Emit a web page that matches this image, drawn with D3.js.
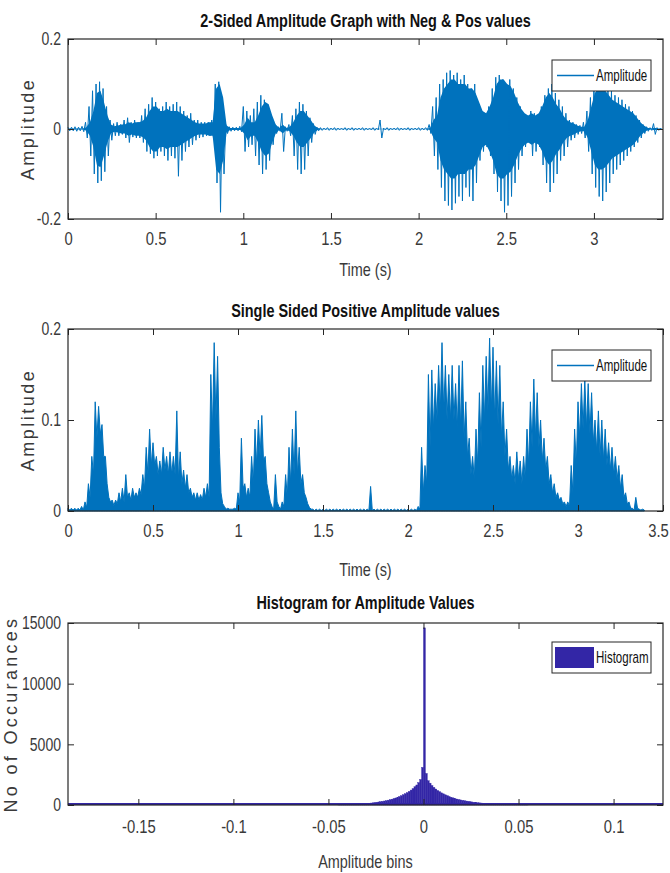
<!DOCTYPE html>
<html>
<head>
<meta charset="utf-8">
<script src="https://cdn.jsdelivr.net/npm/d3@7"></script>
<style>
    body { margin: 0; background: #fff; }
</style>
</head>
<body>
<svg id="main-svg" width="670" height="873"></svg>
<script>
// envelope of the signal, one value every timeStep seconds
const timeStep = 0.02;
const waveHigh = [
    0.004, 0.004, 0.005, 0.004, 0.006, 0.015, 0.05, 0.085, 0.1, 0.105,
    0.09, 0.05, 0.02, 0.012, 0.015, 0.01, 0.02, 0.025, 0.015, 0.02,
    0.015, 0.03, 0.045, 0.055, 0.07, 0.06, 0.045, 0.05, 0.06, 0.05,
    0.055, 0.06, 0.05, 0.04, 0.03, 0.035, 0.02, 0.02, 0.015, 0.015,
    0.015, 0.02, 0.1, 0.105, 0.06, 0.01, 0.005, 0.004, 0.004, 0.006,
    0.05, 0.04, 0.03, 0.045, 0.06, 0.075, 0.065, 0.05, 0.025, 0.01,
    0.005, 0.035, 0.005, 0.01, 0.03, 0.045, 0.06, 0.055, 0.04, 0.025,
    0.012, 0.004, 0.003, 0.002, 0.003, 0.002, 0.003, 0.002, 0.002, 0.003,
    0.002, 0.003, 0.002, 0.002, 0.003, 0.002, 0.002, 0.003, 0.002, 0.02,
    0.002, 0.003, 0.002, 0.002, 0.003, 0.002, 0.002, 0.003, 0.002, 0.002,
    0.003, 0.002, 0.003, 0.01, 0.05, 0.07, 0.1, 0.11, 0.125, 0.13,
    0.12, 0.125, 0.11, 0.12, 0.1, 0.09, 0.1, 0.06, 0.04, 0.03,
    0.05, 0.09, 0.115, 0.12, 0.11, 0.1, 0.11, 0.09, 0.07, 0.05,
    0.03, 0.025, 0.04, 0.035, 0.03, 0.05, 0.075, 0.09, 0.1, 0.08,
    0.065, 0.05, 0.035, 0.02, 0.015, 0.01, 0.008, 0.015, 0.04, 0.07,
    0.1, 0.11, 0.105, 0.1, 0.09, 0.085, 0.075, 0.07, 0.065, 0.055,
    0.05, 0.04, 0.03, 0.02, 0.01, 0.005, 0.003, 0.012, 0.003, 0.002
];
const waveLow = [
    -0.004, -0.004, -0.005, -0.004, -0.006, -0.02, -0.06, -0.1, -0.12, -0.115,
    -0.095, -0.06, -0.025, -0.015, -0.015, -0.012, -0.02, -0.03, -0.018, -0.02,
    -0.02, -0.03, -0.05, -0.055, -0.065, -0.06, -0.05, -0.06, -0.07, -0.06,
    -0.065, -0.105, -0.07, -0.05, -0.04, -0.035, -0.025, -0.02, -0.018, -0.015,
    -0.015, -0.02, -0.12, -0.185, -0.1, -0.01, -0.005, -0.004, -0.004, -0.006,
    -0.05, -0.04, -0.035, -0.06, -0.08, -0.1, -0.09, -0.07, -0.035, -0.01,
    -0.005, -0.05, -0.005, -0.015, -0.06, -0.09, -0.1, -0.09, -0.06, -0.03,
    -0.012, -0.004, -0.003, -0.002, -0.003, -0.002, -0.003, -0.002, -0.002, -0.003,
    -0.002, -0.003, -0.002, -0.002, -0.003, -0.002, -0.002, -0.003, -0.002, -0.02,
    -0.002, -0.003, -0.002, -0.002, -0.003, -0.002, -0.002, -0.003, -0.002, -0.002,
    -0.003, -0.002, -0.003, -0.01, -0.06, -0.09, -0.13, -0.16, -0.17, -0.18,
    -0.165, -0.15, -0.16, -0.13, -0.15, -0.16, -0.12, -0.07, -0.05, -0.04,
    -0.06, -0.1, -0.14, -0.16, -0.185, -0.17, -0.15, -0.12, -0.09, -0.06,
    -0.04, -0.03, -0.06, -0.05, -0.04, -0.08, -0.12, -0.14, -0.12, -0.1,
    -0.07, -0.06, -0.04, -0.025, -0.02, -0.012, -0.01, -0.02, -0.05, -0.1,
    -0.13, -0.15, -0.16, -0.14, -0.12, -0.1, -0.09, -0.08, -0.07, -0.06,
    -0.05, -0.04, -0.03, -0.02, -0.01, -0.005, -0.003, -0.012, -0.003, -0.002
];
// single sided: spikes and the dense part below them
const absPeak = [
    0.003, 0.003, 0.003, 0.003, 0.005, 0.01, 0.03, 0.06, 0.12, 0.115,
    0.095, 0.06, 0.015, 0.012, 0.012, 0.02, 0.025, 0.04, 0.02, 0.025,
    0.02, 0.025, 0.04, 0.07, 0.09, 0.075, 0.06, 0.055, 0.07, 0.06,
    0.065, 0.06, 0.11, 0.065, 0.045, 0.04, 0.025, 0.02, 0.02, 0.018,
    0.025, 0.03, 0.15, 0.185, 0.17, 0.02, 0.005, 0.003, 0.002, 0.003,
    0.02, 0.08, 0.03, 0.025, 0.06, 0.09, 0.1, 0.105, 0.06, 0.02,
    0.005, 0.04, 0.005, 0.01, 0.04, 0.07, 0.09, 0.11, 0.07, 0.04,
    0.015, 0.004, 0.002, 0.002, 0.002, 0.002, 0.002, 0.002, 0.002, 0.002,
    0.002, 0.002, 0.002, 0.002, 0.002, 0.002, 0.002, 0.002, 0.002, 0.027,
    0.002, 0.002, 0.002, 0.002, 0.002, 0.002, 0.002, 0.002, 0.002, 0.002,
    0.002, 0.002, 0.002, 0.005, 0.07, 0.05, 0.15, 0.155, 0.14, 0.16,
    0.185, 0.16, 0.15, 0.16, 0.14, 0.16, 0.165, 0.12, 0.08, 0.06,
    0.09, 0.13, 0.16, 0.17, 0.19, 0.18, 0.165, 0.16, 0.12, 0.09,
    0.06, 0.05, 0.065, 0.055, 0.06, 0.09, 0.12, 0.145, 0.13, 0.1,
    0.08, 0.06, 0.04, 0.03, 0.02, 0.015, 0.01, 0.01, 0.05, 0.09,
    0.12, 0.14, 0.145, 0.14, 0.13, 0.1, 0.11, 0.1, 0.09, 0.075,
    0.07, 0.06, 0.05, 0.04, 0.02, 0.01, 0.003, 0.015, 0.002, 0.002
];
const absBody = [
    0.001, 0.001, 0.001, 0.001, 0.001, 0.004, 0.015, 0.04, 0.08, 0.085,
    0.06, 0.03, 0.01, 0.006, 0.008, 0.01, 0.01, 0.015, 0.012, 0.015,
    0.015, 0.018, 0.025, 0.04, 0.05, 0.05, 0.04, 0.04, 0.045, 0.04,
    0.04, 0.04, 0.035, 0.03, 0.025, 0.02, 0.015, 0.012, 0.012, 0.012,
    0.015, 0.015, 0.09, 0.1, 0.07, 0.008, 0.002, 0.002, 0.002, 0.002,
    0.01, 0.025, 0.015, 0.015, 0.03, 0.05, 0.06, 0.055, 0.03, 0.01,
    0.002, 0.01, 0.002, 0.005, 0.015, 0.03, 0.04, 0.04, 0.03, 0.02,
    0.008, 0.002, 0.0005, 0.0005, 0.0005, 0.0005, 0.0005, 0.0005, 0.0005, 0.0005,
    0.0005, 0.0005, 0.0005, 0.0005, 0.0005, 0.0005, 0.0005, 0.0005, 0.0005, 0.0005,
    0.0005, 0.0005, 0.0005, 0.0005, 0.0005, 0.0005, 0.0005, 0.0005, 0.0005, 0.0005,
    0.0005, 0.0005, 0.0005, 0.002, 0.02, 0.03, 0.07, 0.09, 0.1, 0.11,
    0.11, 0.1, 0.1, 0.1, 0.09, 0.09, 0.08, 0.06, 0.04, 0.035,
    0.05, 0.07, 0.1, 0.11, 0.11, 0.1, 0.095, 0.08, 0.06, 0.045,
    0.035, 0.03, 0.035, 0.03, 0.035, 0.05, 0.07, 0.08, 0.07, 0.055,
    0.045, 0.03, 0.02, 0.015, 0.012, 0.008, 0.005, 0.005, 0.02, 0.05,
    0.08, 0.09, 0.09, 0.085, 0.075, 0.065, 0.06, 0.055, 0.05, 0.045,
    0.04, 0.035, 0.025, 0.015, 0.008, 0.003, 0.001, 0.003, 0.001, 0.001
];

// histogram: bins of width histWidth starting at histStart
const histStart = -0.045;
const histWidth = 0.001;
const histCounts = [
    15, 20, 22, 25, 30, 35, 40, 45, 55, 60,
    70, 80, 90, 100, 115, 130, 145, 160, 180, 200,
    225, 250, 275, 300, 330, 360, 400, 440, 480, 530,
    580, 640, 700, 770, 850, 930, 1020, 1120, 1230, 1350,
    1500, 1650, 1850, 2100, 3100, 14600, 2600, 2000, 1800, 1600,
    1450, 1320, 1200, 1100, 1000, 920, 840, 770, 700, 640,
    590, 540, 495, 455, 420, 385, 355, 325, 300, 275,
    250, 230, 210, 190, 175, 160, 145, 130, 120, 110,
    100, 90, 82, 75, 68, 62, 56, 50, 45, 40,
    36, 32, 28, 25, 22, 20, 17, 15, 13, 11
];
const histRange = [-0.187, 0.126]; // min and max of the samples

const timeTicks = [0, 0.5, 1, 1.5, 2, 2.5, 3];
const timeTicks2 = [0, 0.5, 1, 1.5, 2, 2.5, 3, 3.5];
const ampTicks = [-0.2, 0, 0.2];
const absTicks = [0, 0.1, 0.2];
const binTicks = [-0.15, -0.1, -0.05, 0, 0.05, 0.1];
const countTicks = [0, 5000, 10000, 15000];

const narrowFont = '"Liberation Sans", Arial, sans-serif';
const squeeze = 0.78; // the figure's text is drawn narrow
const lineBlue = "#0072bd";
const histBlue = "#3326a6";
const textGrey = "#3a3a3a";

const svg = d3.select("#main-svg");
const left = 68, right = 663;

function squeezeText(sel) {
    sel.each(function() {
        const t = d3.select(this);
        const x = +t.attr("x") || 0;
        t.attr("x", x / squeeze).attr("transform", `scale(${squeeze},1)`);
    });
}

function drawFrame(g, x, y, xTicks, yTicks, top, bottom, pad) {
    const tick = 6;
    const fmt = d => String(d);
    g.append("g").attr("class", "x-bottom").attr("transform", `translate(0, ${bottom})`)
        .call(d3.axisBottom(x).tickValues(xTicks).tickSize(-tick).tickPadding(pad).tickFormat(fmt));
    g.append("g").attr("transform", `translate(0, ${top})`)
        .call(d3.axisTop(x).tickValues(xTicks).tickSize(-tick).tickFormat(""));
    g.append("g").attr("class", "y-left").attr("transform", `translate(${left}, 0)`)
        .call(d3.axisLeft(y).tickValues(yTicks).tickSize(-tick).tickPadding(7).tickFormat(fmt));
    g.append("g").attr("transform", `translate(${right}, 0)`)
        .call(d3.axisRight(y).tickValues(yTicks).tickSize(-tick).tickFormat(""));
    g.selectAll(".domain").remove();
    g.selectAll(".tick line").attr("stroke", "#262626");
    g.selectAll(".tick text")
        .attr("fill", textGrey)
        .style("font-family", narrowFont)
        .style("font-size", "19px")
        .call(squeezeText);
    g.selectAll(".y-left .tick text").style("font-size", "18px");
    g.append("rect")
        .attr("x", left).attr("y", top)
        .attr("width", right - left).attr("height", bottom - top)
        .attr("fill", "none").attr("stroke", "#262626").attr("stroke-width", 1.2);
}

function narrowLabel(text, xPos, yPos, size, weight, color) {
    svg.append("text")
        .attr("transform", `translate(${xPos}, ${yPos}) scale(${squeeze},1)`)
        .attr("text-anchor", "middle")
        .style("font-family", narrowFont)
        .style("font-weight", weight)
        .style("font-size", size + "px")
        .attr("fill", color)
        .text(text);
}

function addYLabel(text, xPos, yPos, spacing) {
    svg.append("text")
        .attr("transform", `translate(${xPos}, ${yPos}) rotate(-90)`)
        .attr("text-anchor", "middle")
        .style("font-family", '"Liberation Sans", Arial, sans-serif')
        .style("font-size", "18px")
        .style("letter-spacing", spacing + "px")
        .attr("fill", textGrey)
        .text(text);
}

function addLegend(top, label, isPatch, color) {
    const lg = svg.append("g");
    lg.append("rect")
        .attr("x", 552).attr("y", top).attr("width", 99).attr("height", 31)
        .attr("fill", "#fff").attr("stroke", "#262626").attr("stroke-width", 1);
    if (isPatch) {
        lg.append("rect")
            .attr("x", 555).attr("y", top + 5).attr("width", 39).attr("height", 21)
            .attr("fill", color);
    } else {
        lg.append("line")
            .attr("x1", 557).attr("x2", 594).attr("y1", top + 15.5).attr("y2", top + 15.5)
            .attr("stroke", color).attr("stroke-width", 1.3);
    }
    lg.append("text")
        .attr("transform", `translate(596, ${top + 21}) scale(0.72,1)`)
        .style("font-family", narrowFont)
        .style("font-size", "16px")
        .attr("fill", "#111")
        .text(label);
}

// ---- panel 1: two sided waveform
const top1 = 39, bottom1 = 219;
const x1 = d3.scaleLinear().domain([0, 3.394]).range([left, right]);
const y1 = d3.scaleLinear().domain([-0.2, 0.2]).range([bottom1, top1]);
const zig1 = [];
waveHigh.forEach((h, i) => {
    zig1.push([i * timeStep, h]);
    zig1.push([i * timeStep + timeStep / 2, waveLow[i]]);
});
const g1 = svg.append("g");
g1.append("path")
    .datum(absBody.slice(0, waveHigh.length))
    .attr("fill", lineBlue)
    .attr("d", d3.area()
        .x((d, i) => x1(i * timeStep + timeStep / 4))
        .y0(d => y1(-d))
        .y1(d => y1(d)));
g1.append("path")
    .datum(zig1)
    .attr("fill", "none")
    .attr("stroke", lineBlue)
    .attr("stroke-width", 1)
    .attr("d", d3.line().x(d => x1(d[0])).y(d => y1(d[1])));
drawFrame(g1, x1, y1, timeTicks, ampTicks, top1, bottom1, 13);
narrowLabel("2-Sided Amplitude Graph with Neg & Pos values", (left + right) / 2, 27, 18.5, "bold", "#111");
narrowLabel("Time (s)", (left + right) / 2, 276, 18.5, "normal", textGrey);
addYLabel("Amplitude", 34, (top1 + bottom1) / 2, 2.5);
addLegend(top1 + 21, "Amplitude", false, lineBlue);

// ---- panel 2: single sided
const top2 = 329, bottom2 = 511;
const x2 = d3.scaleLinear().domain([0, 3.5]).range([left, right]);
const y2 = d3.scaleLinear().domain([0, 0.2]).range([bottom2, top2]);
const zig2 = [];
absPeak.forEach((p, i) => {
    zig2.push([i * timeStep, p]);
    zig2.push([i * timeStep + timeStep / 2, absBody[i]]);
});
const g2 = svg.append("g");
g2.append("path")
    .datum(zig2)
    .attr("fill", lineBlue)
    .attr("stroke", lineBlue)
    .attr("stroke-width", 1)
    .attr("d", d3.area().x(d => x2(d[0])).y0(y2(0)).y1(d => y2(d[1])));
drawFrame(g2, x2, y2, timeTicks2, absTicks, top2, bottom2, 13);
// last label sits on the right edge of the figure, as in the original
g2.selectAll(".x-bottom .tick text").filter(d => d === 3.5)
    .attr("x", -5 / squeeze);
narrowLabel("Single Sided Positive Amplitude values", (left + right) / 2, 317, 18.5, "bold", "#111");
narrowLabel("Time (s)", (left + right) / 2, 576, 18.5, "normal", textGrey);
addYLabel("Amplitude", 34, (top2 + bottom2) / 2, 2.5);
addLegend(top2 + 21, "Amplitude", false, lineBlue);

// ---- panel 3: histogram
const top3 = 623, bottom3 = 805;
const x3 = d3.scaleLinear().domain(histRange).range([left, right]);
const y3 = d3.scaleLinear().domain([0, 15000]).range([bottom3, top3]);
const g3 = svg.append("g");
g3.append("line")
    .attr("x1", x3(histRange[0])).attr("x2", x3(histRange[1]))
    .attr("y1", y3(0) - 1).attr("y2", y3(0) - 1)
    .attr("stroke", histBlue).attr("stroke-width", 2);
g3.selectAll(".bin")
    .data(histCounts)
    .join("rect")
    .attr("class", "bin")
    .attr("x", (d, i) => x3(histStart + i * histWidth))
    .attr("width", x3(histWidth) - x3(0))
    .attr("y", d => y3(d))
    .attr("height", d => y3(0) - y3(d))
    .attr("fill", histBlue)
    .attr("stroke", histBlue)
    .attr("stroke-width", 0.4);
drawFrame(g3, x3, y3, binTicks, countTicks, top3, bottom3, 15);
narrowLabel("Histogram for Amplitude Values", (left + right) / 2, 609, 18.5, "bold", "#111");
narrowLabel("Amplitude bins", (left + right) / 2, 868, 18.5, "normal", textGrey);
addYLabel("No of Occurances", 17, (top3 + bottom3) / 2, 3.3);
addLegend(top3 + 19, "Histogram", true, histBlue);
</script>
</body>
</html>
